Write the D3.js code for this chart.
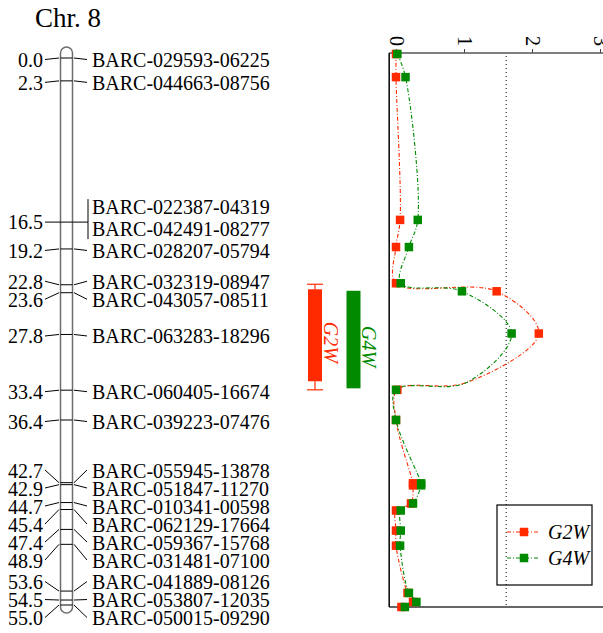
<!DOCTYPE html>
<html>
<head>
<meta charset="utf-8">
<script src="https://cdn.jsdelivr.net/npm/d3@7"></script>
<style>
  body { margin: 0; background: #fff; }
  svg { display: block; }
  text { font-family: "Liberation Serif", "Times New Roman", serif; }
</style>
</head>
<body>
<div id="chart"></div>
<script>
// linkage map, chromosome 8
const markerNames = [
  'BARC-029593-06225', 'BARC-044663-08756', 'BARC-022387-04319', 'BARC-042491-08277',
  'BARC-028207-05794', 'BARC-032319-08947', 'BARC-043057-08511', 'BARC-063283-18296',
  'BARC-060405-16674', 'BARC-039223-07476', 'BARC-055945-13878', 'BARC-051847-11270',
  'BARC-010341-00598', 'BARC-062129-17664', 'BARC-059367-15768', 'BARC-031481-07100',
  'BARC-041889-08126', 'BARC-053807-12035', 'BARC-050015-09290'
];
const markerCM = [0.0, 2.3, 16.5, 16.5, 19.2, 22.8, 23.6, 27.8, 33.4, 36.4,
  42.7, 42.9, 44.7, 45.4, 47.4, 48.9, 53.6, 54.5, 55.0];

// LOD profile (32.7 cM is a vertex of the curve without a marker)
const scanCM = [0.0, 2.3, 16.5, 19.2, 22.8, 23.6, 27.8, 32.7, 33.4, 36.4,
  42.7, 42.9, 44.7, 45.4, 47.4, 48.9, 53.6, 54.5, 55.0];
const g2wLOD = [0.00, 0.00, 0.06, 0.00, 0.00, 1.48, 2.10, 1.03, 0.02, 0.00,
  0.25, 0.25, 0.22, 0.00, 0.00, 0.00, 0.17, 0.25, 0.08];
const g4wLOD = [0.02, 0.14, 0.32, 0.19, 0.07, 0.97, 1.70, 1.03, 0.00, 0.00,
  0.37, 0.37, 0.25, 0.07, 0.07, 0.06, 0.19, 0.30, 0.13];
const lodTicks = [0, 1, 2, 3];
const threshold = 1.62;

// QTL confidence intervals
const qtlNames = ['G2W', 'G4W'];
const qtlStart = [23.4, 23.55];
const qtlEnd = [32.55, 33.25];
const qtlLow = [22.9, null];
const qtlHigh = [33.4, null];

const RED = '#ff2a00';
const GREEN = '#008a00';
const colors = [RED, GREEN];

const W = 603, H = 633;
const svg = d3.select('#chart').append('svg').attr('width', W).attr('height', H);

svg.append('text')
  .attr('x', 35).attr('y', 27)
  .attr('font-size', 27)
  .text('Chr. 8');

// ---- chromosome ----
const yMap = d3.scaleLinear().domain([0, 55]).range([58, 605]);
const chrL = 60.5, chrR = 72.5;

svg.append('rect')
  .attr('x', chrL).attr('y', 47)
  .attr('width', chrR - chrL).attr('height', 613 - 47)
  .attr('rx', 6)
  .attr('fill', 'none').attr('stroke', '#6e6e6e').attr('stroke-width', 1.5);

// group markers sharing a position
const units = [];
markerCM.forEach((cm, i) => {
  const last = units[units.length - 1];
  if (last && last.cm === cm) last.idx.push(i);
  else units.push({ cm, idx: [i], t: yMap(cm) });
});

// spread labels so they do not overlap
const gap = 18;
let clusters = units.map(u => ({ units: [u] }));
function place(c) {
  const ts = c.units.map(u => u.t);
  const mid = (d3.min(ts) + d3.max(ts)) / 2 + 2.5;
  const n = c.units.length;
  c.units.forEach((u, k) => { u.y = mid + (k - (n - 1) / 2) * gap; });
  c.top = c.units[0].y; c.bottom = c.units[n - 1].y;
}
clusters.forEach(place);
let merged = true;
while (merged) {
  merged = false;
  for (let i = 1; i < clusters.length; i++) {
    const a = clusters[i - 1], b = clusters[i];
    if (a.units[0].idx.length > 1 || b.units[0].idx.length > 1) continue;
    if (b.top - a.bottom < gap - 0.01) {
      a.units = a.units.concat(b.units);
      clusters.splice(i, 1);
      place(a);
      merged = true;
      break;
    }
  }
}

const map = svg.append('g').attr('stroke', '#000').attr('stroke-width', 1);
const labelX = 92, cmX = 43;

units.forEach(u => {
  // cross bar on the chromosome
  map.append('line')
    .attr('x1', chrL).attr('x2', chrR).attr('y1', u.t).attr('y2', u.t);

  if (u.idx.length > 1) {
    const n = u.idx.length;
    const ys = u.idx.map((_, k) => u.t - 4 + (k - (n - 1) / 2) * 22);
    map.append('line').attr('x1', 45).attr('x2', chrL).attr('y1', u.t).attr('y2', u.t);
    map.append('line').attr('x1', chrR).attr('x2', 88).attr('y1', u.t).attr('y2', u.t);
    map.append('line').attr('x1', 88).attr('x2', 88)
      .attr('y1', ys[0] - 8).attr('y2', ys[n - 1] + 10);
    svg.append('text').attr('x', cmX).attr('y', u.t + 7)
      .attr('text-anchor', 'end').attr('font-size', 20).text(u.cm.toFixed(1));
    u.idx.forEach((i, k) => {
      svg.append('text').attr('x', labelX).attr('y', ys[k] + 7)
        .attr('font-size', 20).text(markerNames[i]);
    });
  } else {
    const i = u.idx[0];
    map.append('line').attr('x1', 45).attr('x2', chrL - 1.5).attr('y1', u.y - 1).attr('y2', u.t);
    map.append('line').attr('x1', chrR + 1.5).attr('x2', 87).attr('y1', u.t).attr('y2', u.y - 1);
    svg.append('text').attr('x', cmX).attr('y', u.y + 6.5)
      .attr('text-anchor', 'end').attr('font-size', 20).text(u.cm.toFixed(1));
    svg.append('text').attr('x', labelX).attr('y', u.y + 6.5)
      .attr('font-size', 20).text(markerNames[i]);
  }
});

// ---- LOD plot ----
const x = d3.scaleLinear().domain([0, 3]).range([396, 600]);
const yPlot = d3.scaleLinear().domain([0, 55]).range([54, 607]);
const frameL = x(-0.1), frameT = 53, frameB = 607;

const axis = svg.append('g')
  .attr('transform', `translate(0,${frameT})`)
  .call(d3.axisTop(x).tickValues(lodTicks).tickSize(4).tickFormat(d3.format('d')));
axis.select('.domain').remove();
axis.selectAll('line').attr('stroke', '#444');
axis.selectAll('text')
  .attr('transform', 'rotate(90)')
  .attr('x', -7).attr('y', 0).attr('dy', '0.35em')
  .attr('text-anchor', 'end')
  .attr('font-size', 20)
  .attr('font-family', '"Liberation Serif", serif')
  .attr('fill', '#000');

svg.append('line').attr('x1', frameL).attr('x2', W).attr('y1', frameT).attr('y2', frameT)
  .attr('stroke', '#555').attr('stroke-width', 1.3);
svg.append('line').attr('x1', frameL).attr('x2', W).attr('y1', frameB).attr('y2', frameB)
  .attr('stroke', '#333').attr('stroke-width', 1.3);
svg.append('line').attr('x1', frameL).attr('x2', frameL).attr('y1', frameT).attr('y2', frameB)
  .attr('stroke', '#111').attr('stroke-width', 1.6);

svg.append('line')
  .attr('x1', x(threshold)).attr('x2', x(threshold))
  .attr('y1', frameT + 3).attr('y2', frameB)
  .attr('stroke', '#000').attr('stroke-width', 1)
  .attr('stroke-dasharray', '1,3');

// QTL bars
const barX = [315, 353.5];
qtlNames.forEach((name, i) => {
  const g = svg.append('g');
  g.append('rect')
    .attr('x', barX[i] - 7).attr('width', 14)
    .attr('y', yPlot(qtlStart[i])).attr('height', yPlot(qtlEnd[i]) - yPlot(qtlStart[i]))
    .attr('fill', colors[i]);
  if (qtlLow[i] != null) {
    [[qtlLow[i], qtlStart[i]], [qtlHigh[i], qtlEnd[i]]].forEach(([a, b]) => {
      g.append('line').attr('x1', barX[i]).attr('x2', barX[i])
        .attr('y1', yPlot(a)).attr('y2', yPlot(b))
        .attr('stroke', colors[i]).attr('stroke-width', 1.2);
      g.append('line').attr('x1', barX[i] - 8).attr('x2', barX[i] + 8)
        .attr('y1', yPlot(a)).attr('y2', yPlot(a))
        .attr('stroke', colors[i]).attr('stroke-width', 1.2);
    });
  }
  const cy = (yPlot(qtlStart[i]) + yPlot(qtlEnd[i])) / 2 + 7;
  g.append('text')
    .attr('transform', `translate(${barX[i] + 8.5},${cy}) rotate(90)`)
    .attr('text-anchor', 'middle')
    .attr('font-size', 20).attr('font-style', 'italic')
    .attr('fill', colors[i])
    .text(name);
});

// profiles
const series = [
  { name: 'G2W', lod: g2wLOD, color: RED },
  { name: 'G4W', lod: g4wLOD, color: GREEN }
];
const line = d3.line()
  .x(d => x(d.lod))
  .y(d => yPlot(d.cm))
  .curve(d3.curveCatmullRom.alpha(0.5));

series.forEach(s => {
  const pts = scanCM.map((cm, i) => ({ cm, lod: s.lod[i] }));
  svg.append('path')
    .datum(pts)
    .attr('d', line)
    .attr('fill', 'none')
    .attr('stroke', s.color).attr('stroke-width', 1.1)
    .attr('stroke-dasharray', '4,2,1,2');
});
const ms = 8.5;
series.forEach(s => {
  const pts = scanCM.map((cm, i) => ({ cm, lod: s.lod[i] }))
    .filter(d => markerCM.includes(d.cm));
  svg.append('g').selectAll('rect')
    .data(pts)
    .join('rect')
    .attr('x', d => x(d.lod) - ms / 2)
    .attr('y', d => yPlot(d.cm) - ms / 2)
    .attr('width', ms).attr('height', ms)
    .attr('fill', s.color);
});

// legend
const leg = svg.append('g');
leg.append('rect')
  .attr('x', 497).attr('y', 505).attr('width', 95).attr('height', 80)
  .attr('fill', 'none').attr('stroke', '#000').attr('stroke-width', 1.2);
series.forEach((s, i) => {
  const ly = 532 + i * 26;
  leg.append('line').attr('x1', 507).attr('x2', 539).attr('y1', ly).attr('y2', ly)
    .attr('stroke', s.color).attr('stroke-width', 1.1).attr('stroke-dasharray', '4,2,1,2');
  leg.append('rect').attr('x', 524 - ms / 2).attr('y', ly - ms / 2)
    .attr('width', ms).attr('height', ms).attr('fill', s.color);
  leg.append('text').attr('x', 548).attr('y', ly + 7)
    .attr('font-size', 20).attr('font-style', 'italic')
    .text(s.name);
});
</script>
</body>
</html>
